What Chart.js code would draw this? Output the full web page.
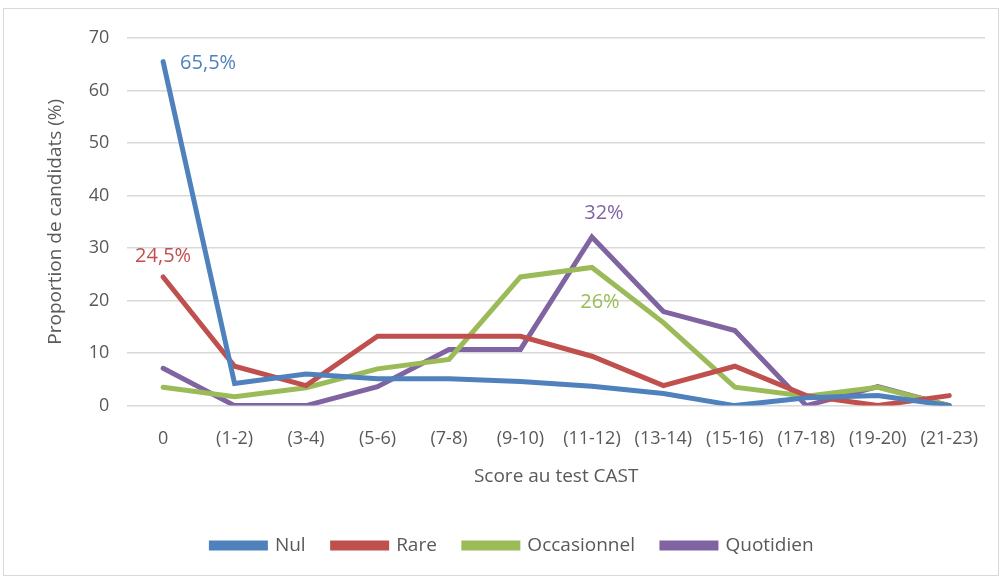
<!DOCTYPE html>
<html lang="fr">
<head>
<meta charset="UTF-8">
<title>Score au test CAST</title>
<script src="https://cdn.jsdelivr.net/npm/chart.js"></script>
<style>
	body { margin: 0; background: #fff; }
	#wrap { position: relative; width: 1003px; height: 578px; }
	#frame { position: absolute; left: 3px; top: 8px; width: 996px; height: 568px; border: 1px solid #d9d9d9; box-sizing: border-box; }
	canvas { position: absolute; left: 0; top: 0; }
</style>
</head>
<body>
<div id="wrap">
	<div id="frame"></div>
	<canvas id="lineChart" width="1003" height="578"></canvas>
</div>
<script>
// categories (score CAST)
const scores = ['0', '(1-2)', '(3-4)', '(5-6)', '(7-8)', '(9-10)', '(11-12)', '(13-14)', '(15-16)', '(17-18)', '(19-20)', '(21-23)'];

// proportions (%)
const nul         = [65.5, 4.2, 6.0, 5.1, 5.1, 4.6, 3.7, 2.3, 0, 1.5, 1.9, 0];
const rare        = [24.5, 7.5, 3.8, 13.2, 13.2, 13.2, 9.4, 3.8, 7.5, 1.9, 0, 1.9];
const occasionnel = [3.5, 1.7, 3.4, 7.0, 8.8, 24.5, 26.3, 15.8, 3.5, 1.8, 3.5, 0];
const quotidien   = [7.1, 0, 0, 3.6, 10.7, 10.7, 32.1, 17.9, 14.3, 0, 3.6, 0];

const yTicks = [0, 10, 20, 30, 40, 50, 60, 70];

// value labels shown on the chart
const pointLabels = [
	{ ds: 0, i: 0, text: '65,5%', dx: 17, dy: 2, align: 'left' },
	{ ds: 1, i: 0, text: '24,5%', dx: 0, dy: -21, align: 'center' },
	{ ds: 3, i: 6, text: '32%', dx: 12, dy: -24, align: 'center' },
	{ ds: 2, i: 6, text: '26%', dx: 8, dy: 35, align: 'center' }
];

const labelPlugin = {
	id: 'pointLabels',
	afterDatasetsDraw(chart) {
		const c = chart.ctx;
		c.save();
		c.font = '20px "Open Sans", sans-serif';
		c.textBaseline = 'middle';
		pointLabels.forEach(l => {
			const pt = chart.getDatasetMeta(l.ds).data[l.i];
			c.fillStyle = chart.data.datasets[l.ds].borderColor;
			c.textAlign = l.align;
			c.fillText(l.text, pt.x + l.dx, pt.y + l.dy);
		});
		c.restore();
	}
};

Chart.defaults.font.family = '"Open Sans", sans-serif';
Chart.defaults.color = '#595959';

function ds(label, data, color) {
	return {
		label: label,
		data: data,
		borderColor: color,
		backgroundColor: color,
		borderWidth: 5,
		pointRadius: 0,
		tension: 0,
		borderCapStyle: 'round',
		borderJoinStyle: 'miter'
	};
}

var ctx = document.getElementById('lineChart').getContext('2d');
var lineChart = new Chart(ctx, {
	type: 'line',
	data: {
		labels: scores,
		datasets: [
			ds('Nul', nul, '#4f81bd'),
			ds('Rare', rare, '#c0504d'),
			ds('Occasionnel', occasionnel, '#9bbb59'),
			ds('Quotidien', quotidien, '#8064a2')
		]
	},
	options: {
		responsive: false,
		animation: false,
		layout: { padding: { left: 40, right: 18, top: 38, bottom: 13 } },
		plugins: {
			legend: {
				position: 'bottom',
				labels: {
					boxWidth: 54,
					boxHeight: 5,
					padding: 27,
					font: { size: 19 },
					color: '#595959'
				}
			},
			tooltip: { enabled: false }
		},
		scales: {
			y: {
				min: 0,
				max: 70,
				afterBuildTicks: axis => { axis.ticks = yTicks.map(v => ({ value: v })); },
				grid: { color: '#d9d9d9', lineWidth: 1.5, drawTicks: false },
				border: { display: false },
				ticks: { font: { size: 18 }, padding: 18 },
				title: {
					display: true,
					text: 'Proportion de candidats (%)',
					font: { size: 19 },
					padding: { bottom: 4 }
				}
			},
			x: {
				offset: true,
				grid: { display: false },
				border: { display: false },
				ticks: { font: { size: 18 }, maxRotation: 0, autoSkip: false, padding: 14 },
				title: {
					display: true,
					text: 'Score au test CAST',
					font: { size: 19 },
					padding: { top: 2, bottom: 21 }
				}
			}
		}
	},
	plugins: [labelPlugin]
});
</script>
</body>
</html>
